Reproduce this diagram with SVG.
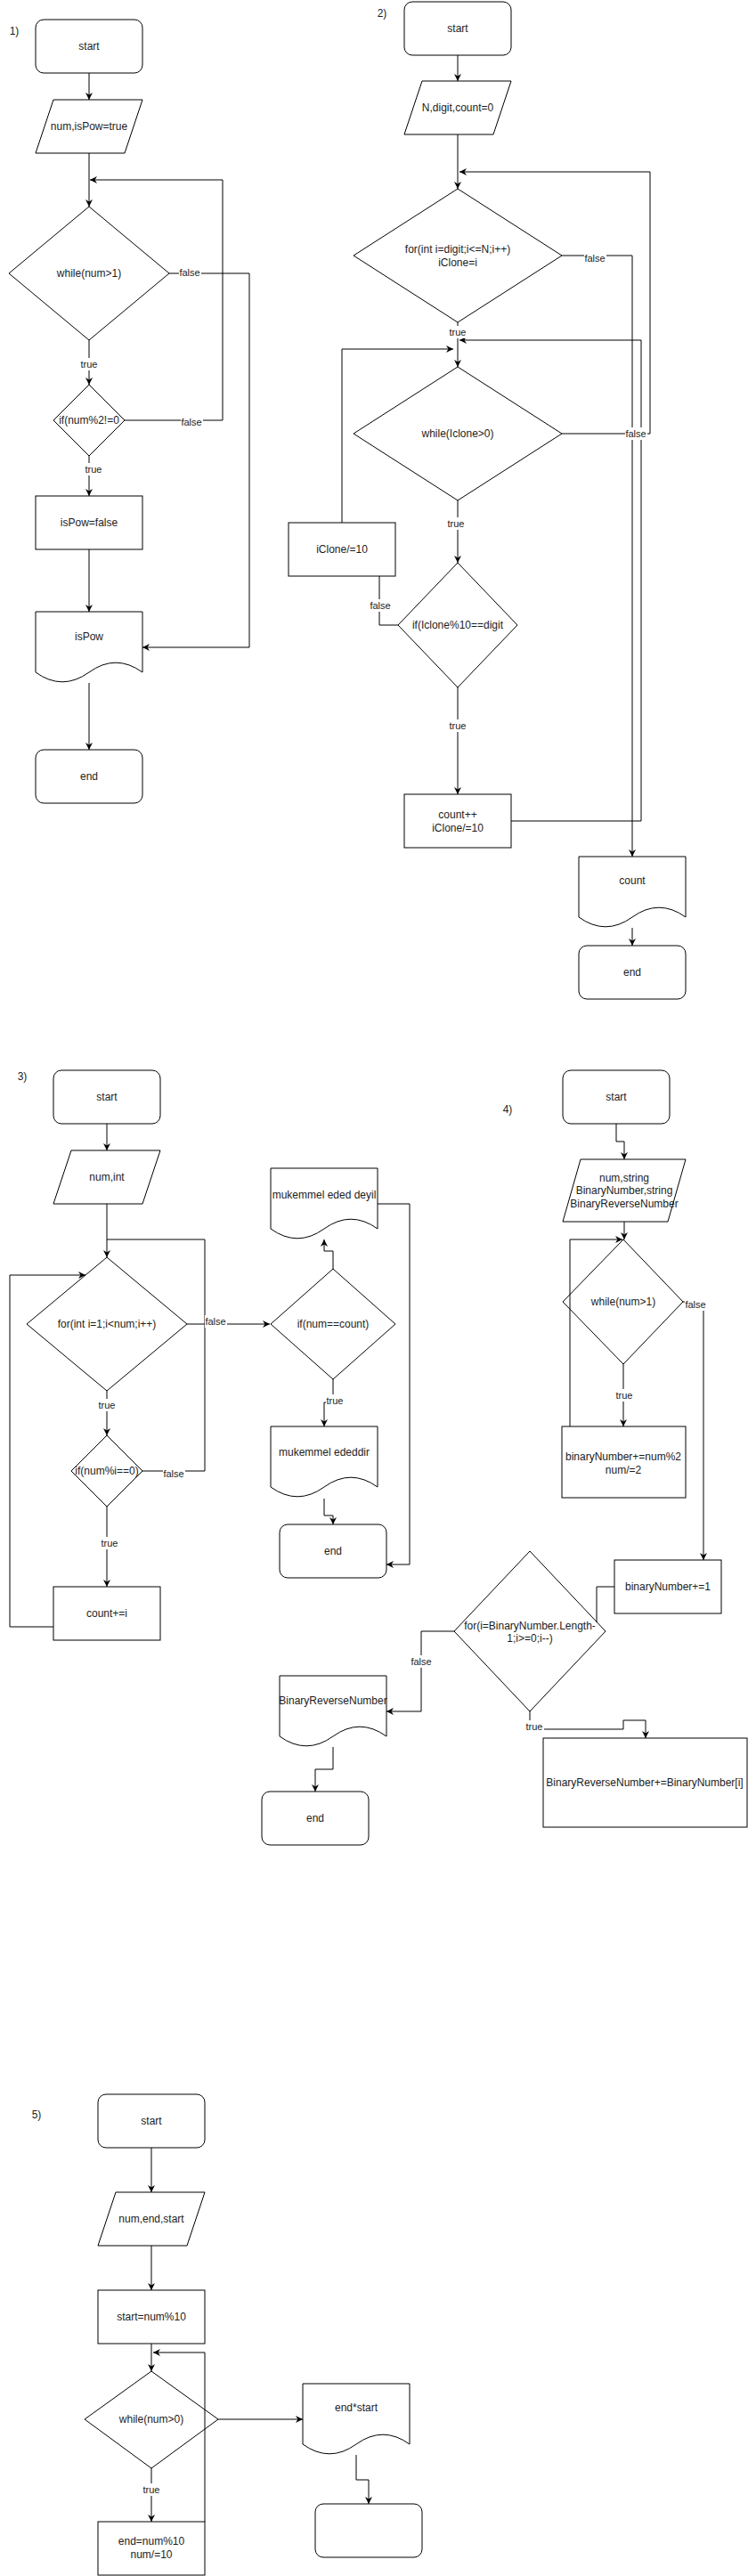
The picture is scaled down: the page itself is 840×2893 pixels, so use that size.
<svg xmlns="http://www.w3.org/2000/svg" width="840" height="2893" viewBox="0 0 840 2893">
<defs>
<marker id="arr" viewBox="0 0 8 8" refX="8" refY="4" markerWidth="8" markerHeight="8" markerUnits="userSpaceOnUse" orient="auto">
<path d="M0,0 L8,4 L0,8 L2.5,4 Z" fill="#000"/>
</marker>
<style>
.s{fill:#fff;stroke:#000;stroke-width:1}
.c{fill:none;stroke:#000;stroke-width:1}
.a{marker-end:url(#arr)}
text{font-family:"Liberation Sans",Arial,Helvetica,sans-serif;font-size:12px;fill:#1c1c1c;text-anchor:middle;dominant-baseline:central}
.l{font-size:11px}
.bg{fill:#fff;stroke:none}
</style>
</defs>
<rect width="840" height="2893" fill="#fff"/>

<!-- section numbers -->
<g id="numbers">
<text x="16" y="35">1)</text>
<text x="429" y="15">2)</text>
<text x="25" y="1209">3)</text>
<text x="570" y="1246">4)</text>
<text x="41" y="2375">5)</text>
</g>

<!-- flowchart 1 nodes -->
<g id="n1_start"><rect class="s" x="40" y="22" width="120" height="60" rx="9"/><text x="100" y="52">start</text></g>
<g id="n1_input"><polygon class="s" points="60,112 160,112 140,172 40,172"/><text x="100" y="142">num,isPow=true</text></g>
<g id="n1_while"><polygon class="s" points="100,232 190,307 100,382 10,307"/><text x="100" y="307">while(num&gt;1)</text></g>
<g id="n1_if"><polygon class="s" points="100,432 140,472 100,512 60,472"/><text x="100" y="472">if(num%2!=0</text></g>
<g id="n1_assign"><rect class="s" x="40" y="557" width="120" height="60"/><text x="100" y="587">isPow=false</text></g>
<g id="n1_output"><path class="s" d="M40,687 H160 V755 Q130,733.4 100,755 Q70,776.6 40,755 Z"/><text x="100" y="715">isPow</text></g>
<g id="n1_end"><rect class="s" x="40" y="842" width="120" height="60" rx="9"/><text x="100" y="872">end</text></g>

<!-- flowchart 2 nodes -->
<g id="n2_start"><rect class="s" x="454" y="2" width="120" height="60" rx="9"/><text x="514" y="32">start</text></g>
<g id="n2_input"><polygon class="s" points="474,91 574,91 554,151 454,151"/><text x="514" y="121">N,digit,count=0</text></g>
<g id="n2_for"><polygon class="s" points="514,212 631,287 514,362 397,287"/><text x="514" y="280">for(int i=digit;i&lt;=N;i++)</text><text x="514" y="295">iClone=i</text></g>
<g id="n2_while"><polygon class="s" points="514,412 631,487 514,562 397,487"/><text x="514" y="487">while(Iclone&gt;0)</text></g>
<g id="n2_div"><rect class="s" x="324" y="587" width="120" height="60"/><text x="384" y="617">iClone/=10</text></g>
<g id="n2_if"><polygon class="s" points="514,632 581,702 514,772 447,702"/><text x="514" y="702">if(Iclone%10==digit</text></g>
<g id="n2_count"><rect class="s" x="454" y="892" width="120" height="60"/><text x="514" y="915">count++</text><text x="514" y="930">iClone/=10</text></g>
<g id="n2_output"><path class="s" d="M650,962 H770 V1030 Q740,1008.4 710,1030 Q680,1051.6 650,1030 Z"/><text x="710" y="989">count</text></g>
<g id="n2_end"><rect class="s" x="650" y="1062" width="120" height="60" rx="9"/><text x="710" y="1092">end</text></g>

<!-- flowchart 3 nodes -->
<g id="n3_start"><rect class="s" x="60" y="1202" width="120" height="60" rx="9"/><text x="120" y="1232">start</text></g>
<g id="n3_input"><polygon class="s" points="80,1292 180,1292 160,1352 60,1352"/><text x="120" y="1322">num,int</text></g>
<g id="n3_for"><polygon class="s" points="120,1412 210,1487 120,1562 30,1487"/><text x="120" y="1487">for(int i=1;i&lt;num;i++)</text></g>
<g id="n3_if"><polygon class="s" points="120,1612 160,1652 120,1692 80,1652"/><text x="120" y="1652">if(num%i==0)</text></g>
<g id="n3_sum"><rect class="s" x="60" y="1782" width="120" height="60"/><text x="120" y="1812">count+=i</text></g>
<g id="n3_check"><polygon class="s" points="374,1425 444,1487 374,1549 304,1487"/><text x="374" y="1487">if(num==count)</text></g>
<g id="n3_not"><path class="s" d="M304,1312 H424 V1380 Q394,1358.4 364,1380 Q334,1401.6 304,1380 Z"/><text x="364" y="1342">mukemmel eded deyil</text></g>
<g id="n3_yes"><path class="s" d="M304,1602 H424 V1670 Q394,1648.4 364,1670 Q334,1691.6 304,1670 Z"/><text x="364" y="1631">mukemmel ededdir</text></g>
<g id="n3_end"><rect class="s" x="314" y="1712" width="120" height="60" rx="9"/><text x="374" y="1742">end</text></g>

<!-- flowchart 4 nodes -->
<g id="n4_start"><rect class="s" x="632" y="1202" width="120" height="60" rx="9"/><text x="692" y="1232">start</text></g>
<g id="n4_input"><polygon class="s" points="652,1302 770,1302 750,1372 632,1372"/><text x="701" y="1323">num,string</text><text x="701" y="1337">BinaryNumber,string</text><text x="701" y="1352">BinaryReverseNumber</text></g>
<g id="n4_while"><polygon class="s" points="700,1392 767,1462 700,1532 632,1462"/><text x="700" y="1462">while(num&gt;1)</text></g>
<g id="n4_loop"><rect class="s" x="631" y="1602" width="139" height="80"/><text x="700" y="1636">binaryNumber+=num%2</text><text x="700" y="1651">num/=2</text></g>
<g id="n4_add1"><rect class="s" x="690" y="1752" width="120" height="60"/><text x="750" y="1782">binaryNumber+=1</text></g>
<g id="n4_for"><polygon class="s" points="595,1742 680,1832 595,1922 510,1832"/><text x="595" y="1826">for(i=BinaryNumber.Length-</text><text x="595" y="1840">1;i&gt;=0;i--)</text></g>
<g id="n4_output"><path class="s" d="M314,1882 H434 V1950 Q404,1928.4 374,1950 Q344,1971.6 314,1950 Z"/><text x="374" y="1910">BinaryReverseNumber</text></g>
<g id="n4_end"><rect class="s" x="294" y="2012" width="120" height="60" rx="9"/><text x="354" y="2042">end</text></g>
<g id="n4_append"><rect class="s" x="610" y="1952" width="229" height="100"/><text x="724" y="2002">BinaryReverseNumber+=BinaryNumber[i]</text></g>

<!-- flowchart 5 nodes -->
<g id="n5_start"><rect class="s" x="110" y="2352" width="120" height="60" rx="9"/><text x="170" y="2382">start</text></g>
<g id="n5_input"><polygon class="s" points="130,2462 230,2462 210,2522 110,2522"/><text x="170" y="2492">num,end,start</text></g>
<g id="n5_first"><rect class="s" x="110" y="2572" width="120" height="60"/><text x="170" y="2602">start=num%10</text></g>
<g id="n5_while"><polygon class="s" points="170,2663 245,2717 170,2772 95,2717"/><text x="170" y="2717">while(num&gt;0)</text></g>
<g id="n5_body"><rect class="s" x="110" y="2832" width="120" height="60"/><text x="170" y="2854">end=num%10</text><text x="170" y="2869">num/=10</text></g>
<g id="n5_output"><path class="s" d="M340,2677 H460 V2745 Q430,2723.4 400,2745 Q370,2766.6 340,2745 Z"/><text x="400" y="2704">end*start</text></g>
<g id="n5_end"><rect class="s" x="354" y="2812" width="120" height="60" rx="9"/></g>

<!-- connectors -->
<g id="connectors">
<!-- flowchart 1 -->
<path class="c a" d="M100,82 V112"/>
<path class="c a" d="M100,172 V232"/>
<path class="c a" d="M100,382 V432"/>
<path class="c a" d="M100,512 V557"/>
<path class="c a" d="M100,617 V687"/>
<path class="c a" d="M100,767 V842"/>
<path class="c a" d="M190,307 H280 V727 H160"/>
<path class="c a" d="M140,472 H250 V202 H101"/>
<!-- flowchart 2 -->
<path class="c a" d="M514,62 V91"/>
<path class="c a" d="M514,151 V212"/>
<path class="c a" d="M514,362 V412"/>
<path class="c a" d="M631,287 H710 V962"/>
<path class="c a" d="M631,487 H730 V193 H516"/>
<path class="c a" d="M574,922 H720 V382 H516"/>
<path class="c a" d="M514,562 V632"/>
<path class="c" d="M447,702 H426 V647"/>
<path class="c a" d="M384,587 V392 H509"/>
<path class="c a" d="M514,772 V892"/>
<path class="c a" d="M710,1042 V1062"/>
<!-- flowchart 3 -->
<path class="c a" d="M120,1262 V1292"/>
<path class="c a" d="M120,1352 V1412"/>
<path class="c a" d="M120,1562 V1612"/>
<path class="c a" d="M120,1692 V1782"/>
<path class="c" d="M160,1652 H230 V1392 H120"/>
<path class="c a" d="M60,1827 H11 V1432 H96"/>
<path class="c a" d="M210,1487 H303"/>
<path class="c a" d="M374,1549 V1575 H364 V1602"/>
<path class="c a" d="M374,1425 V1405 H364 V1392"/>
<path class="c a" d="M424,1352 H460 V1757 H434"/>
<path class="c a" d="M364,1683 V1702 H374 V1712"/>
<!-- flowchart 4 -->
<path class="c a" d="M692,1262 V1282 H701 V1302"/>
<path class="c a" d="M701,1372 V1392"/>
<path class="c a" d="M700,1532 V1602"/>
<path class="c a" d="M767,1462 H790 V1752"/>
<path class="c a" d="M640,1602 V1392 H699"/>
<path class="c" d="M690,1782 H670 V1822"/>
<path class="c a" d="M510,1832 H473 V1922 H434"/>
<path class="c a" d="M595,1922 V1942 H700 V1932 H725 V1952"/>
<path class="c a" d="M374,1962 V1987 H354 V2012"/>
<!-- flowchart 5 -->
<path class="c a" d="M170,2412 V2462"/>
<path class="c a" d="M170,2522 V2572"/>
<path class="c a" d="M170,2632 V2663"/>
<path class="c a" d="M170,2772 V2832"/>
<path class="c a" d="M230,2832 V2642 H172"/>
<path class="c a" d="M245,2717 H340"/>
<path class="c a" d="M400,2757 V2785 H414 V2812"/>

<!-- edge labels -->
<g id="edge-labels">
<rect class="bg" x="90" y="402" width="21" height="14"/><text class="l" x="100" y="409">true</text>
<rect class="bg" x="95" y="520" width="21" height="14"/><text class="l" x="105" y="527">true</text>
<rect class="bg" x="201" y="299" width="25" height="14"/><text class="l" x="213" y="306">false</text>
<rect class="bg" x="203" y="467" width="25" height="14"/><text class="l" x="215" y="474">false</text>

<rect class="bg" x="504" y="366" width="21" height="14"/><text class="l" x="514" y="373">true</text>
<rect class="bg" x="656" y="283" width="25" height="14"/><text class="l" x="668" y="290">false</text>
<rect class="bg" x="702" y="480" width="25" height="14"/><text class="l" x="714" y="487">false</text>
<rect class="bg" x="502" y="581" width="21" height="14"/><text class="l" x="512" y="588">true</text>
<rect class="bg" x="415" y="673" width="25" height="14"/><text class="l" x="427" y="680">false</text>
<rect class="bg" x="504" y="808" width="21" height="14"/><text class="l" x="514" y="815">true</text>

<rect class="bg" x="110" y="1571" width="21" height="14"/><text class="l" x="120" y="1578">true</text>
<rect class="bg" x="113" y="1726" width="21" height="14"/><text class="l" x="123" y="1733">true</text>
<rect class="bg" x="183" y="1648" width="25" height="14"/><text class="l" x="195" y="1655">false</text>
<rect class="bg" x="230" y="1477" width="25" height="14"/><text class="l" x="242" y="1484">false</text>
<rect class="bg" x="366" y="1566" width="21" height="14"/><text class="l" x="376" y="1573">true</text>

<rect class="bg" x="691" y="1560" width="21" height="14"/><text class="l" x="701" y="1567">true</text>
<rect class="bg" x="769" y="1458" width="25" height="14"/><text class="l" x="781" y="1465">false</text>
<rect class="bg" x="461" y="1859" width="25" height="14"/><text class="l" x="473" y="1866">false</text>
<rect class="bg" x="590" y="1932" width="21" height="14"/><text class="l" x="600" y="1939">true</text>

<rect class="bg" x="160" y="2789" width="21" height="14"/><text class="l" x="170" y="2796">true</text>
</g>
</g>
</svg>
